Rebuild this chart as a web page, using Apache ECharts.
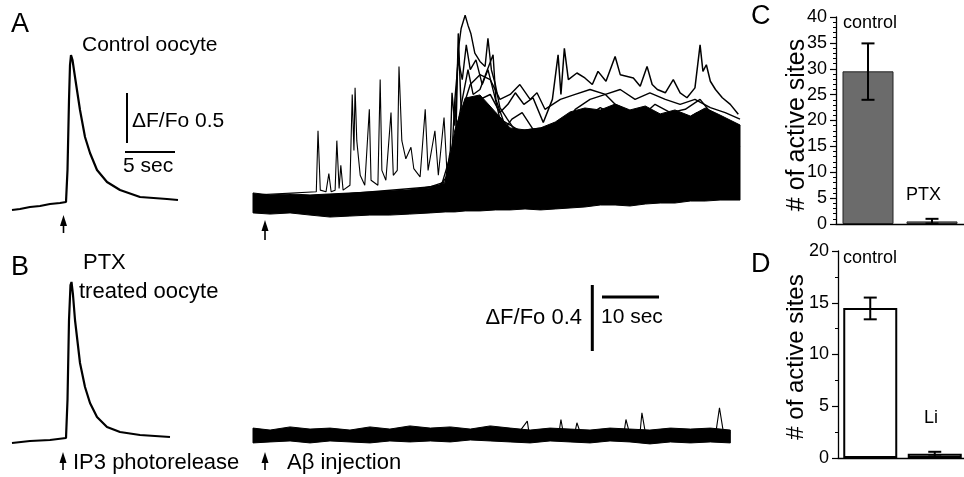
<!DOCTYPE html>
<html>
<head>
<meta charset="utf-8">
<script src="https://cdn.jsdelivr.net/npm/echarts@6/dist/echarts.min.js"></script>
<style>
  html, body { margin: 0; padding: 0; background: #fff; }
  #main { width: 964px; height: 477px; }
</style>
</head>
<body>
<div id="main"></div>
<script>
// ---- traces: [time (s), dF/Fo] ----
var ctrlTrace = [[0,-0.05],[0.8,-0.04],[1.8,-0.02],[2.8,-0.01],[3.8,0.01],[4.8,0.02],[5.4,0.03],[5.55,0.35],[5.7,1.05],[5.8,1.40],[5.9,1.50],[6.05,1.45],[6.3,1.28],[6.8,0.95],[7.3,0.68],[7.8,0.52],[8.5,0.35],[9.5,0.23],[10.8,0.15],[12.8,0.08],[15.5,0.06],[16.6,0.05]];
var ptxTrace = [[0,-0.01],[1.8,0.01],[3.8,0.02],[5.4,0.04],[5.55,0.42],[5.7,1.22],[5.85,1.57],[5.95,1.60],[6.1,1.47],[6.3,1.22],[6.8,0.79],[7.3,0.55],[7.8,0.39],[8.5,0.25],[9.5,0.15],[10.8,0.10],[12.8,0.07],[15.8,0.05]];

// dense bundle of control traces (lower / upper edge)
var bandATime = [0,3.0,6.5,10.0,13.5,17.0,20.5,24.0,27.5,31.1,33.7,35.4,37.2,39.8,42.5,45.1,47.7,50.4,53.0,55.6,58.2,60.9,63.5,66.1,68.8,71.4,74.0,76.7,79.3,81.9,85.4];
var bandALow = [-0.048,-0.055,-0.048,-0.061,-0.073,-0.067,-0.061,-0.061,-0.055,-0.048,-0.042,-0.042,-0.036,-0.036,-0.030,-0.030,-0.024,-0.030,-0.024,-0.018,-0.012,0,0,-0.006,0.006,0.012,0.012,0.024,0.024,0.030,0.030];
var bandAHigh = [0.073,0.061,0.067,0.061,0.067,0.073,0.079,0.085,0.091,0.103,0.133,0.455,0.648,0.667,0.564,0.467,0.455,0.467,0.503,0.564,0.588,0.576,0.612,0.576,0.600,0.552,0.576,0.539,0.588,0.545,0.485];

var earlySpikes = [[0,0.06],[11.1,0.08],[11.4,0.45],[11.8,0.09],[12.8,0.08],[13.3,0.19],[13.7,0.08],[14.4,0.09],[14.7,0.39],[15.1,0.10],[15.4,0.24],[15.8,0.09],[17.0,0.12],[17.4,0.67],[17.7,0.33],[17.9,0.71],[18.2,0.39],[18.8,0.18],[19.6,0.12],[20.4,0.58],[20.7,0.15],[21.9,0.12],[22.3,0.76],[22.6,0.21],[23.3,0.15],[24.2,0.56],[24.6,0.18],[25.3,0.21],[25.6,0.84],[26.1,0.39],[26.8,0.28],[27.7,0.35],[28.2,0.22],[29.3,0.17],[30.2,0.58],[30.7,0.21],[31.9,0.45],[32.5,0.18],[33.5,0.53],[34.0,0.21],[34.6,0.15]];
var trace1 = [[0,0.03],[17.0,0.05],[29.3,0.09],[33.7,0.14],[34.6,0.33],[34.9,0.68],[35.4,0.48],[36.0,0.94],[36.5,1.07],[37.2,1.15],[37.7,1.09],[38.2,1.04],[38.9,0.92],[39.8,0.87],[40.7,0.84],[41.2,1.01],[41.8,0.82],[42.5,0.73],[43.3,0.59],[44.6,0.52],[45.6,0.47],[46.8,0.42],[48.1,0.39],[50.4,0.42],[53.0,0.35],[55.6,0.28],[58.2,0.26],[60.9,0.24],[64.4,0.21],[69.6,0.18],[74.9,0.16],[80.2,0.15],[85.4,0.14]];
var trace2 = [[0,0.04],[25.8,0.08],[32.8,0.12],[34.9,0.21],[35.6,0.45],[36.0,1.04],[36.5,0.58],[38.1,0.58],[39.8,0.64],[41.6,0.67],[43.3,0.56],[44.7,0.61],[46.0,0.68],[47.5,0.61],[49.1,0.65],[50.9,0.50],[52.5,0.64],[53.5,0.91],[54.0,0.67],[54.6,0.95],[55.3,0.76],[56.8,0.80],[58.2,0.77],[59.5,0.73],[60.5,0.81],[61.9,0.75],[63.5,0.90],[64.4,0.79],[66.7,0.77],[67.9,0.72],[69.1,0.84],[70.0,0.73],[70.9,0.70],[72.3,0.68],[73.7,0.76],[74.9,0.68],[76.1,0.65],[77.5,0.71],[78.4,0.97],[78.9,0.81],[79.5,0.85],[80.2,0.75],[81.1,0.70],[82.3,0.65],[83.7,0.61],[85.1,0.55]];
var trace3 = [[0,0.03],[32.8,0.09],[35.4,0.39],[36.7,0.64],[37.7,0.82],[38.6,0.67],[39.8,0.70],[41.1,0.82],[42.1,0.91],[42.6,0.64],[44.2,0.48],[46.0,0.39],[48.6,0.33],[51.2,0.39],[53.9,0.44],[56.5,0.58],[59.1,0.64],[61.8,0.67],[63.5,0.61],[65.3,0.58],[67.9,0.53],[70.5,0.61],[73.2,0.56],[75.8,0.58],[78.4,0.64],[80.5,0.55],[82.8,0.52],[85.4,0.48]];
var trace4 = [[0,0.02],[34.6,0.06],[36.7,0.21],[38.4,0.39],[40.7,0.53],[43.3,0.42],[45.4,0.52],[47.2,0.56],[50.4,0.39],[53.0,0.33],[55.6,0.47],[58.2,0.53],[60.9,0.59],[63.0,0.55],[65.3,0.48],[67.9,0.41],[70.5,0.35],[72.8,0.44],[75.3,0.50],[77.9,0.56],[80.5,0.47],[83.0,0.39],[85.4,0.35]];
var trace5 = [[0,0.03],[34.6,0.10],[36.0,0.50],[38.1,0.73],[39.8,0.79],[41.6,0.76],[43.3,0.64],[45.1,0.67],[46.8,0.73],[48.6,0.64],[49.8,0.68],[51.2,0.58],[53.9,0.64],[56.5,0.67],[59.1,0.70],[61.8,0.67],[64.4,0.70],[67.0,0.64],[69.6,0.68],[72.3,0.64],[74.9,0.61],[77.5,0.64],[80.2,0.59],[82.8,0.56],[85.4,0.52]];
var trace6 = [[0,0.02],[34.6,0.12],[35.4,0.64],[36.0,0.88],[36.7,0.76],[37.4,0.97],[38.1,0.82],[39.1,0.88],[40.2,0.73],[41.2,0.82],[42.3,0.67],[43.3,0.52],[46.8,0.45],[53.9,0.48],[60.9,0.53],[67.9,0.52],[74.9,0.53],[85.4,0.47]];

// PTX-treated oocyte after A-beta injection
var bandBTime = [0,3.0,6.5,10.0,13.5,17.0,20.5,24.0,27.5,31.1,34.6,38.1,41.6,45.1,48.6,52.1,55.6,59.1,62.6,66.1,69.6,73.2,76.7,80.2,83.7];
var bandBHigh = [0.048,0.036,0.055,0.042,0.048,0.036,0.055,0.042,0.061,0.048,0.055,0.042,0.061,0.048,0.036,0.048,0.042,0.036,0.048,0.042,0.036,0.048,0.042,0.048,0.036];
var bandBLow = [-0.042,-0.036,-0.030,-0.042,-0.030,-0.036,-0.042,-0.030,-0.036,-0.030,-0.036,-0.024,-0.030,-0.036,-0.042,-0.030,-0.036,-0.042,-0.030,-0.036,-0.048,-0.036,-0.042,-0.036,-0.042];
var ptxSpikes = [[0,0.02],[46.8,0.03],[48.1,0.09],[48.4,0.02],[53.7,0.03],[54.0,0.10],[54.4,0.02],[56.5,0.03],[56.8,0.08],[57.4,0.02],[65.1,0.03],[65.4,0.10],[66.0,0.02],[67.9,0.03],[68.2,0.14],[68.8,0.02],[81.2,0.03],[81.8,0.17],[82.5,0.02],[83.7,0.02]];

// ---- bar charts ----
var catsC = ['control', 'PTX'];
var sitesC = [29.5, 0.5];
var errLowC = [24.0, 0.1];
var errHighC = [34.9, 1.0];

var catsD = ['control', 'Li'];
var sitesD = [14.5, 0.4];
var errLowD = [13.4, 0.15];
var errHighD = [15.5, 0.6];

var FONT = '"Liberation Sans", Arial, sans-serif';

function line(data, idx, w, z) {
    return { type: 'line', xAxisIndex: idx, yAxisIndex: idx, data: data, symbol: 'none',
        silent: true, lineStyle: { color: '#000', width: w }, z: z || 3 };
}
// filled band between lower and upper edge, drawn as one polygon through the axes
function band(t, low, high, idx) {
    return { type: 'custom', xAxisIndex: idx, yAxisIndex: idx, silent: true, z: 2,
        data: [[t[0], low[0]]],
        renderItem: function (params, api) {
            var pts = [], i;
            for (i = 0; i < t.length; i++) pts.push(api.coord([t[i], high[i]]));
            for (i = t.length - 1; i >= 0; i--) pts.push(api.coord([t[i], low[i]]));
            return { type: 'polygon', shape: { points: pts },
                style: { fill: '#000', stroke: '#000', lineWidth: 1 } };
        } };
}
function errItem(params, api) {
    var lo = api.coord([api.value(0), api.value(1)]);
    var hi = api.coord([api.value(0), api.value(2)]);
    var w = 6.5, st = { stroke: '#000', lineWidth: 2 };
    return { type: 'group', children: [
        { type: 'line', shape: { x1: lo[0], y1: lo[1], x2: hi[0], y2: hi[1] }, style: st },
        { type: 'line', shape: { x1: lo[0] - w, y1: lo[1], x2: lo[0] + w, y2: lo[1] }, style: st },
        { type: 'line', shape: { x1: hi[0] - w, y1: hi[1], x2: hi[0] + w, y2: hi[1] }, style: st }
    ] };
}
function txt(x, y, s, size, align, rot) {
    return { type: 'text', x: x, y: y, z: 100, rotation: rot || 0,
        style: { text: s, font: size + 'px ' + FONT, fill: '#000',
            textAlign: align || 'left', textVerticalAlign: 'middle' } };
}
function arrow(x, tip, bottom) {
    return [
        { type: 'polygon', z: 100, shape: { points: [[x, tip], [x - 3.5, tip + 11], [x + 3.5, tip + 11]] }, style: { fill: '#000' } },
        { type: 'line', z: 100, shape: { x1: x, y1: tip + 8, x2: x, y2: bottom }, style: { stroke: '#000', lineWidth: 1.6 } }
    ];
}

var hidden = { show: false };
function traceX(max, g) { return { type: 'value', gridIndex: g, min: 0, max: max, show: false }; }
function traceY(min, max, g) { return { type: 'value', gridIndex: g, min: min, max: max, show: false }; }
function barY(max, g, minor) {
    return { type: 'value', gridIndex: g, min: 0, max: max, interval: 5,
        axisLine: { show: true, lineStyle: { color: '#000', width: 1.3 } },
        axisTick: { show: true, length: 6, lineStyle: { color: '#000', width: 1.2 } },
        minorTick: { show: true, splitNumber: minor, length: 3, lineStyle: { color: '#000', width: 1 } },
        splitLine: hidden, minorSplitLine: hidden,
        axisLabel: { fontSize: 18, fontFamily: FONT, color: '#000', margin: 9 } };
}
function barX(cats, g) {
    return { type: 'category', gridIndex: g, data: cats,
        axisLine: { show: true, onZero: false, lineStyle: { color: '#000', width: 1.3 } },
        axisTick: hidden, axisLabel: hidden };
}

var graphics = [
    txt(11, 25, 'A', 27), txt(11, 268, 'B', 27), txt(751, 17, 'C', 27), txt(751, 265, 'D', 27),
    txt(82, 45, 'Control oocyte', 21),
    txt(132, 121, '\u0394F/Fo 0.5', 21),
    txt(123, 166, '5 sec', 21),
    txt(83, 263, 'PTX', 22),
    txt(79, 292, 'treated oocyte', 22),
    txt(73, 463, 'IP3 photorelease', 22),
    txt(287, 463, 'A\u03b2 injection', 22),
    txt(582, 318, '\u0394F/Fo 0.4', 22, 'right'),
    txt(601, 317, '10 sec', 21),
    txt(843, 23, 'control', 18), txt(906, 195, 'PTX', 18),
    txt(843, 258, 'control', 18), txt(924, 418, 'Li', 18),
    txt(797, 125, '# of active sites', 25, 'center', Math.PI / 2),
    txt(796, 357, '# of active sites', 24, 'center', Math.PI / 2)
].concat(arrow(63.5, 215, 233), arrow(265, 220, 240), arrow(63, 452, 470), arrow(265, 452, 470));

var chart = echarts.init(document.getElementById('main'), null, { renderer: 'canvas' });
chart.setOption({
    animation: false,
    backgroundColor: '#fff',
    grid: [
        { left: 12, top: 15, width: 166, height: 200, outerBoundsMode: 'none' },
        { left: 253, top: 7, width: 487, height: 231, outerBoundsMode: 'none' },
        { left: 12, top: 252, width: 166, height: 200, outerBoundsMode: 'none' },
        { left: 253, top: 238, width: 487, height: 231, outerBoundsMode: 'none' },
        { left: 836, top: 17, width: 128, height: 207, outerBoundsMode: 'none' },
        { left: 838, top: 251, width: 129, height: 207, outerBoundsMode: 'none' }
    ],
    xAxis: [traceX(16.6, 0), traceX(85.4, 1), traceX(16.6, 2), traceX(85.4, 3), barX(catsC, 4), barX(catsD, 5)],
    yAxis: [traceY(-0.1, 1.9, 0), traceY(-0.2, 1.2, 1), traceY(-0.1, 1.9, 2), traceY(-0.2, 1.2, 3), barY(40, 4, 5), barY(20, 5, 2)],
    graphic: graphics,
    series: [
        // A: control oocyte, IP3 response + scale bar
        line(ctrlTrace, 0, 2.2),
        line([[11.5, 0.62], [11.5, 1.12]], 0, 2),
        line([[11.3, 0.53], [16.3, 0.53]], 0, 2),
        // A: responses to A-beta
        band(bandATime, bandALow, bandAHigh, 1),
        line(earlySpikes, 1, 1.1),
        line(trace4, 1, 1.4), line(trace6, 1, 1.4), line(trace5, 1, 1.4),
        line(trace3, 1, 1.4), line(trace1, 1, 1.4), line(trace2, 1, 1.5),
        // B: PTX treated
        line(ptxTrace, 2, 2.2),
        band(bandBTime, bandBLow, bandBHigh, 3),
        line(ptxSpikes, 3, 1.1),
        line([[59.5, 0.515], [59.5, 0.915]], 3, 3),
        line([[61.2, 0.842], [71.2, 0.842]], 3, 3),
        // C
        { type: 'bar', xAxisIndex: 4, yAxisIndex: 4, data: sitesC, barWidth: 51,
          itemStyle: { color: '#6b6b6b', borderColor: '#222', borderWidth: 1 } },
        { type: 'custom', xAxisIndex: 4, yAxisIndex: 4, renderItem: errItem, z: 5,
          encode: { x: 0, y: [1, 2] },
          data: catsC.map(function (c, i) { return [i, errLowC[i], errHighC[i]]; }) },
        // D
        { type: 'bar', xAxisIndex: 5, yAxisIndex: 5, data: sitesD, barWidth: 54,
          itemStyle: { color: '#fff', borderColor: '#000', borderWidth: 2 } },
        { type: 'custom', xAxisIndex: 5, yAxisIndex: 5, renderItem: errItem, z: 5,
          encode: { x: 0, y: [1, 2] },
          data: catsD.map(function (c, i) { return [i, errLowD[i], errHighD[i]]; }) }
    ]
});
</script>
</body>
</html>
